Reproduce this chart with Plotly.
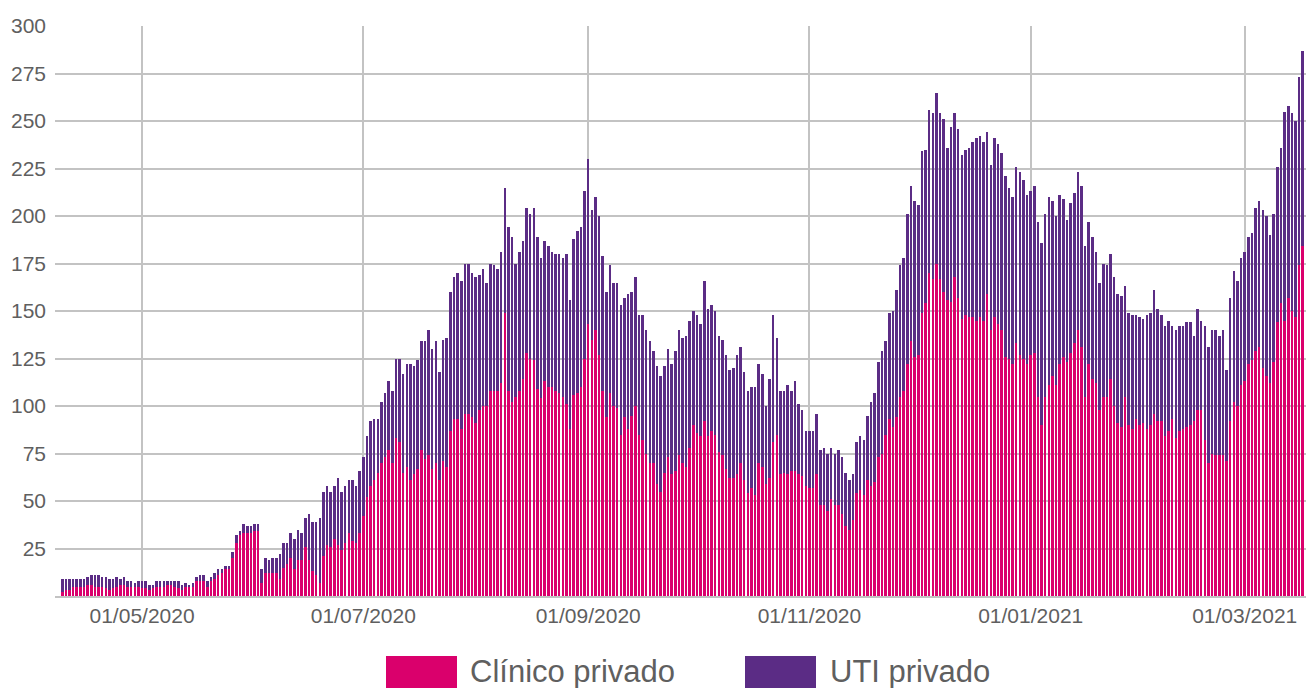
import plotly.graph_objects as go
import pandas as pd

# ---------------- data ----------------
start_date = "2020-04-09"   # first daily bar

clinico = [
    # Apr 9 ->
    2,3,3,5,5,5,5,6,6,5,5,5,4,3,4,5,6,6,5,5,5,5,4,4,3,4,5,5,5,6,6,5,4,3,5,5,5,8,8,8,5,8,9,11,12,14,14,20,28,32,33,33,33,34,34,
    7,12,12,12,12,9,15,17,20,14,19,19,26,19,13,11,7,21,27,26,30,27,24,28,33,29,28,33,
    42,52,58,61,65,70,73,77,70,83,81,65,68,61,64,67,77,72,74,67,70,61,71,68,87,93,93,88,96,96,
    94,91,98,100,100,108,108,108,112,149,108,102,105,108,114,128,125,124,109,104,113,110,110,108,107,105,101,88,106,
    107,110,125,143,135,140,127,108,94,107,100,99,85,94,88,95,100,85,82,75,70,70,59,55,65,73,64,66,74,
    70,68,78,90,86,84,92,84,87,85,76,74,67,62,62,64,70,61,54,57,53,70,68,59,62,81,85,64,65,
    64,66,66,64,63,58,57,57,64,48,48,45,51,48,48,43,37,35,40,54,56,53,61,58,60,73,75,85,93,
    89,94,105,108,122,134,126,127,149,154,170,167,175,167,160,156,155,168,157,146,148,147,147,145,147,145,159,140,147,
    143,140,126,125,122,133,127,125,122,127,128,105,90,105,111,116,111,122,126,123,128,133,140,131,105,122,114,112,98,
    105,105,114,100,91,89,105,90,88,93,90,91,88,90,96,92,92,84,87,93,83,87,88,89,90,92,98,98,82,
    70,75,74,74,74,71,92,102,100,111,113,122,124,129,131,120,116,112,123,144,154,145,157,150,147,174,184,
]

uti = [
    7,6,6,4,4,4,4,4,5,6,6,5,6,6,5,5,3,4,3,3,2,3,4,4,3,2,3,3,3,2,2,3,4,3,2,1,2,2,3,3,3,2,3,3,2,2,2,3,4,2,5,4,4,4,4,
    7,8,7,8,8,13,13,11,13,16,16,14,15,24,26,28,34,34,31,29,28,35,31,30,28,32,30,33,
    31,32,34,32,28,32,34,36,38,42,44,52,54,61,57,57,57,62,66,63,64,57,64,68,73,75,77,78,79,79,
    76,77,71,72,65,67,66,64,69,66,86,87,70,73,73,76,76,80,80,74,74,74,71,72,73,73,79,68,82,
    85,84,88,87,68,70,73,71,66,67,65,66,68,63,71,65,68,63,66,65,64,59,62,61,56,57,58,63,66,
    66,69,67,60,62,59,74,67,66,65,61,61,60,57,58,63,61,57,54,53,57,52,49,41,52,67,51,44,43,
    47,42,47,37,35,29,30,30,32,29,30,30,27,27,29,30,28,26,24,27,28,29,34,44,47,50,54,49,56,
    61,67,69,70,79,82,82,79,85,81,86,87,90,87,91,80,92,86,89,86,87,89,92,96,95,94,85,87,94,
    95,93,95,90,88,93,96,94,89,86,88,92,96,96,99,92,89,89,83,75,79,79,83,85,79,75,75,69,67,
    70,69,66,68,68,69,58,59,60,55,57,55,60,59,65,59,56,58,58,49,57,55,54,55,54,45,53,47,60,
    61,65,66,63,66,48,65,69,66,67,68,67,67,75,77,83,84,78,78,82,82,110,101,104,103,99,103,
]

series_names = ["Clínico privado", "UTI privado"]
y_tick_values = [25, 50, 75, 100, 125, 150, 175, 200, 225, 250, 275, 300]
x_tick_dates = ["2020-05-01", "2020-07-01", "2020-09-01", "2020-11-01", "2021-01-01", "2021-03-01"]
x_tick_labels = ["01/05/2020", "01/07/2020", "01/09/2020", "01/11/2020", "01/01/2021", "01/03/2021"]

# ---------------- style ----------------
W, H = 1312, 688
L, R, T, B = 55, 6, 26, 92
PINK = "#DA006C"
PURPLE = "#5B2C85"
GRID = "#C3C3C3"
TXT = "#5F5F5F"
FONT = "Liberation Sans, Arial, sans-serif"

dates = pd.date_range(start_date, periods=len(clinico), freq="D")

fig = go.Figure()
fig.add_trace(go.Bar(x=dates, y=clinico, name=series_names[0], marker_color=PINK,
                     marker_line_width=0))
fig.add_trace(go.Bar(x=dates, y=uti, name=series_names[1], marker_color=PURPLE,
                     marker_line_width=0))

pw = W - L - R
ph = H - T - B


def px_x(p):
    return (p - L) / pw


def px_y(p):
    return (H - B - p) / ph


shapes = []
annotations = []
legend_items = [(386, 457, 468, series_names[0], PINK), (745, 816, 828, series_names[1], PURPLE)]
for x0, x1, tx, label, col in legend_items:
    shapes.append(dict(type="rect", xref="paper", yref="paper",
                       x0=px_x(x0), x1=px_x(x1), y0=px_y(692), y1=px_y(656),
                       fillcolor=col, line_width=0, layer="above"))
    annotations.append(dict(xref="paper", yref="paper", x=px_x(tx), y=px_y(671),
                            xanchor="left", yanchor="middle", text=label, showarrow=False,
                            font=dict(family=FONT, size=31, color=TXT)))

fig.update_layout(
    width=W, height=H,
    margin=dict(l=L, r=R, t=T, b=B, pad=0),
    paper_bgcolor="white", plot_bgcolor="white",
    barmode="stack", bargap=0.3,
    showlegend=False,
    shapes=shapes, annotations=annotations,
    font=dict(family=FONT, color=TXT),
)
fig.update_xaxes(
    type="date",
    range=["2020-04-07", "2021-03-17 21:36"],
    tickvals=x_tick_dates, ticktext=x_tick_labels,
    showgrid=True, gridcolor=GRID, gridwidth=1.5,
    showline=True, linecolor=GRID, linewidth=1.5,
    ticks="", tickfont=dict(family=FONT, size=21, color=TXT),
    zeroline=False,
)
fig.update_yaxes(
    range=[0, 300],
    tickvals=y_tick_values,
    showgrid=True, gridcolor=GRID, gridwidth=1.5,
    ticks="", tickfont=dict(family=FONT, size=21, color=TXT),
    ticklabelstandoff=8,
    zeroline=False, showline=False,
)

fig.write_html("out.html", config={"displayModeBar": False},
               post_script="document.body.style.margin='0';document.body.style.overflow='hidden';")
